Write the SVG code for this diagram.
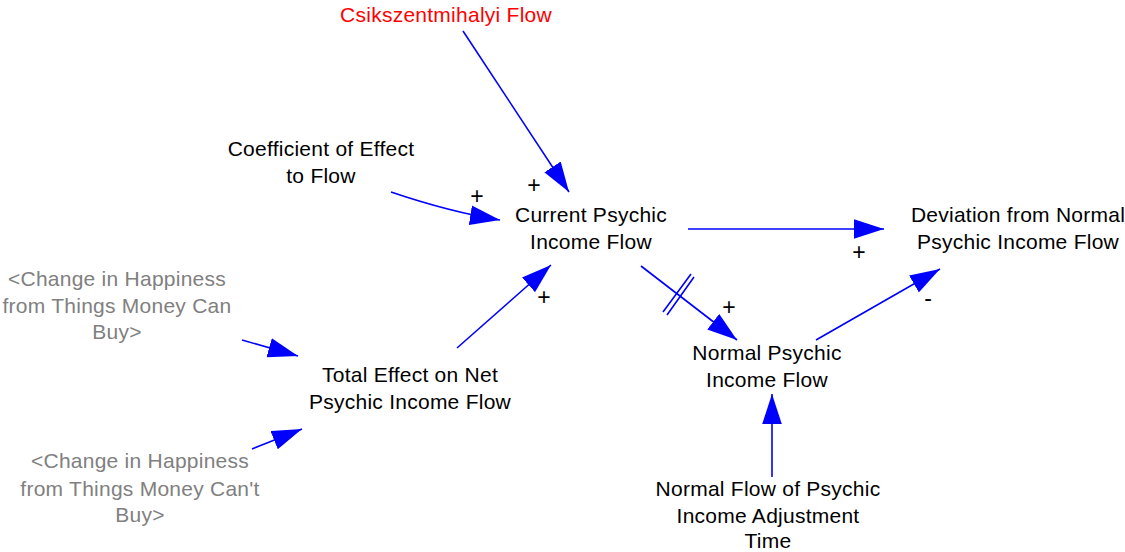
<svg xmlns="http://www.w3.org/2000/svg" width="1125" height="552" viewBox="0 0 1125 552">
<style>
text{font-family:"Liberation Sans",Arial,sans-serif;font-size:21px;text-anchor:middle;fill:#000;letter-spacing:0.25px}
.shadow{fill:#808080}
.red{fill:#ff0000}
.pol{font-size:23px;letter-spacing:0}
.link{fill:none;stroke:#0000ff;stroke-width:1.6;marker-end:url(#ah)}
.hash{fill:none;stroke:#0000ff;stroke-width:1.6}
</style>
<defs>
<marker id="ah" markerUnits="userSpaceOnUse" markerWidth="30" markerHeight="20" refX="26" refY="8.5" orient="auto" viewBox="0 0 26 17">
<path d="M0,0 L26,8.5 L0,17 Z" fill="#0000ff"/>
</marker>
</defs>
<rect width="1125" height="552" fill="#fff"/>
<g id="connectors">
<path class="link" d="M463,31 L569,192"/>
<path class="link" d="M391,192 Q450,212 500,220"/>
<path class="link" d="M457,348 L551,265"/>
<path class="link" d="M688,229 L884,229"/>
<path class="link" d="M641,266 L737,340"/>
<path class="hash" d="M663,312 L691,274 M667,315 L694,277"/>
<path class="link" d="M816,340 L940,269"/>
<path class="link" d="M772,477 L772,394"/>
<path class="link" d="M242,340 L298,356"/>
<path class="link" d="M252,449 L302,429"/>
<text class="pol" x="534" y="193">+</text>
<text class="pol" x="477" y="204">+</text>
<text class="pol" x="544" y="305">+</text>
<text class="pol" x="859" y="260">+</text>
<text class="pol" x="729" y="315">+</text>
<text class="pol" x="928" y="306">-</text>
</g>
<g id="csikszentmihalyi-flow"><text class="red" x="446" y="22">Csikszentmihalyi Flow</text></g>
<g id="coefficient-of-effect"><text x="321" y="156">Coefficient of Effect</text><text x="321" y="183">to Flow</text></g>
<g id="current-psychic-income-flow"><text x="591" y="222">Current Psychic</text><text x="591" y="249">Income Flow</text></g>
<g id="deviation-from-normal"><text x="1018" y="222">Deviation from Normal</text><text x="1018" y="249">Psychic Income Flow</text></g>
<g id="normal-psychic-income-flow"><text x="767" y="360">Normal Psychic</text><text x="767" y="387">Income Flow</text></g>
<g id="total-effect"><text x="410" y="382">Total Effect on Net</text><text x="410" y="409">Psychic Income Flow</text></g>
<g id="change-can-buy"><text class="shadow" x="117" y="286">&lt;Change in Happiness</text><text class="shadow" x="117" y="313">from Things Money Can</text><text class="shadow" x="117" y="339">Buy&gt;</text></g>
<g id="change-cant-buy"><text class="shadow" x="140" y="468">&lt;Change in Happiness</text><text class="shadow" x="140" y="496">from Things Money Can't</text><text class="shadow" x="140" y="522">Buy&gt;</text></g>
<g id="normal-flow-adjustment-time"><text x="768" y="496">Normal Flow of Psychic</text><text x="768" y="523">Income Adjustment</text><text x="768" y="548">Time</text></g>
</svg>
